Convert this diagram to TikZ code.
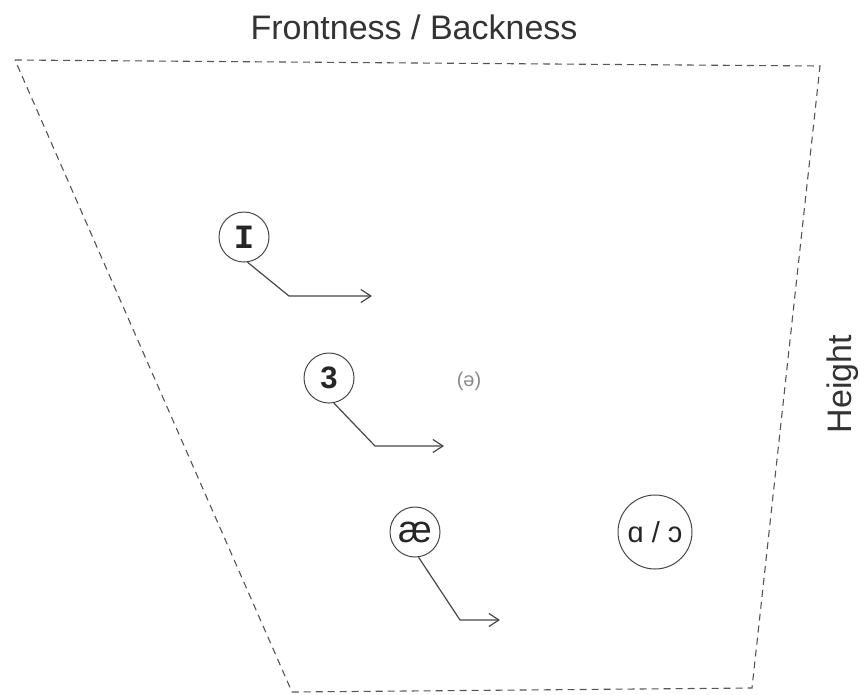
\documentclass[tikz,border=0pt]{standalone}
\usepackage{fontspec}
\setmainfont{Liberation Sans}
\newfontfamily\monofont{Liberation Mono}
\usetikzlibrary{arrows.meta}
\definecolor{linegray}{HTML}{474747}
\definecolor{dashgray}{HTML}{555555}
\definecolor{schwagray}{HTML}{8A8A8A}
\begin{document}
\begin{tikzpicture}[x=1pt,y=-1pt,
  vowel/.style={circle,draw=linegray,line width=1pt,minimum size=50pt,inner sep=0pt,text=black!85},
  shift arrow/.style={draw=linegray,line width=1.2pt,-{Straight Barb[length=10pt,width=13pt,line width=1.2pt]}},
  frame/.style={draw=dashgray,line width=1.1pt,dash pattern=on 7pt off 5pt},
  axislabel/.style={font=\fontsize{34}{36}\selectfont,text=black!80,inner sep=0pt}]
\useasboundingbox (0,0) rectangle (860,694);
% vowel space
\coordinate (tl) at (15,60);
\coordinate (tr) at (820,66);
\coordinate (br) at (752,688);
\coordinate (bl) at (292,692);
\draw[frame] (tl) -- (tr) -- (br) -- (bl) -- cycle;
% axis labels
\node[axislabel,anchor=base] (front) at (414,39) {Frontness / Backness};
\node[axislabel,rotate=90,anchor=base] (height) at (851,384) {Height};
% vowels
\node[vowel,font=\monofont\bfseries\fontsize{34}{34}\selectfont] (I) at (244,237) {I};
\node[vowel,font=\bfseries\fontsize{31}{31}\selectfont] (three) at (329,378) {3};
\node[vowel,font=\fontsize{38}{38}\selectfont] (ae) at (415,532) {æ};
\node[vowel,minimum size=74pt,font=\fontsize{29}{29}\selectfont] (ao) at (655,532) {ɑ / ɔ};
\node[text=schwagray,font=\fontsize{20}{20}\selectfont,inner sep=0pt] (schwa) at (469,381) {(ə)};
% shift arrows
\coordinate (e1) at (289,296);
\coordinate (a1) at (372,296);
\coordinate (e2) at (375,446);
\coordinate (a2) at (444,446);
\coordinate (e3) at (460,620);
\coordinate (a3) at (500,620);
\draw[shift arrow] (I.-82) -- (e1) -- (a1);
\draw[shift arrow] (three.-79) -- (e2) -- (a2);
\draw[shift arrow] (ae.-82) -- (e3) -- (a3);
\end{tikzpicture}
\end{document}
